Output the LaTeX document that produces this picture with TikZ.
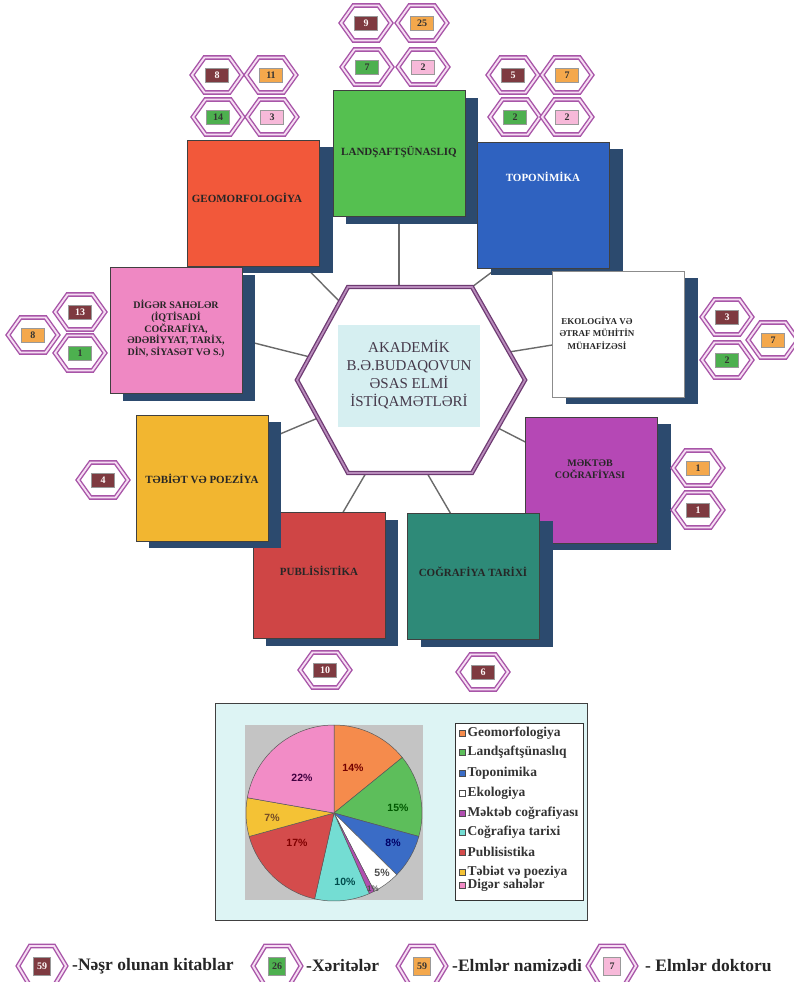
\documentclass[tikz,border=0pt]{standalone}
\usepackage{fontspec}
\setmainfont{Liberation Serif}
\setsansfont{Liberation Sans}
\usetikzlibrary{shadows}
\pgfdeclarelayer{back}
\pgfdeclarelayer{bg}
\pgfsetlayers{back,bg,main}

\definecolor{shadowblue}{HTML}{2C4A6E}
\definecolor{geoC}{HTML}{F2583A}
\definecolor{landC}{HTML}{55C050}
\definecolor{topoC}{HTML}{2F62C0}
\definecolor{mektC}{HTML}{B548B5}
\definecolor{cogC}{HTML}{2E8A78}
\definecolor{publC}{HTML}{CF4545}
\definecolor{tebC}{HTML}{F2B630}
\definecolor{digC}{HTML}{EF88C3}
\definecolor{hexPurple}{HTML}{A855A8}
\definecolor{hexLight}{HTML}{F6DDF3}
\definecolor{bBrown}{HTML}{7E3A40}
\definecolor{bOrange}{HTML}{F4A84C}
\definecolor{bGreen}{HTML}{4DB04F}
\definecolor{bPink}{HTML}{F7B9D9}
\definecolor{connC}{HTML}{6A6A6A}
\definecolor{centerPurple}{HTML}{6E3A72}
\definecolor{centerLight}{HTML}{B88BBB}
\definecolor{centerFill}{HTML}{D6EFF1}
\definecolor{centerText}{HTML}{45394A}
\definecolor{panelC}{HTML}{DDF4F4}
\definecolor{plotC}{HTML}{C4C4C4}
\definecolor{pGeo}{HTML}{F58B4C}
\definecolor{pLand}{HTML}{5DBE5B}
\definecolor{pTopo}{HTML}{3A6CC6}
\definecolor{pEko}{HTML}{FFFFFF}
\definecolor{pMekt}{HTML}{B04EB0}
\definecolor{pCog}{HTML}{74DDD3}
\definecolor{pPubl}{HTML}{D44C4C}
\definecolor{pTeb}{HTML}{F4C235}
\definecolor{pDig}{HTML}{F28CC6}

\tikzset{
  conn/.style={draw=connC, line width=1.4pt},
  areabox/.style={draw=black!75, line width=0.4pt, minimum width=132pt, minimum height=126pt, inner sep=0pt,
    general shadow={fill=shadowblue, shadow xshift=13pt, shadow yshift=-7pt}},
  arealabel/.style={font=\fontsize{11}{13}\selectfont\bfseries, align=center, inner sep=0pt, text=black!85},
  badgehex/.style={draw=hexPurple, double=hexLight, line width=1.4pt, double distance=1.9pt, fill=white, line join=miter},
  numbox/.style={minimum width=23pt, minimum height=14pt, inner sep=0pt, font=\fontsize{10}{10}\selectfont\bfseries, draw=black!40, line width=0.3pt},
  keybox/.style={minimum width=17pt, minimum height=18pt},
  nbrown/.style={fill=bBrown, text=white!90!pink},
  norange/.style={fill=bOrange, text=black!80},
  ngreen/.style={fill=bGreen, text=black!80},
  npink/.style={fill=bPink, text=black!80},
  centerhex/.style={fill=white, draw=centerPurple, double=centerLight, line width=1.3pt, double distance=1.8pt, line join=miter},
  pctlabel/.style={font=\sffamily\bfseries\fontsize{10.5}{11}\selectfont, inner sep=0pt},
  legsq/.style={draw=black!70, line width=0.4pt, minimum size=6.5pt, inner sep=0pt},
  legtxt/.style={font=\fontsize{13.5}{13.5}\selectfont\bfseries, text=black!80, inner sep=0pt, anchor=west},
  keytxt/.style={font=\fontsize{17.5}{17.5}\selectfont\bfseries, text=black!85, inner sep=0pt, anchor=west}
}

\newcommand{\mybadge}[5]{%
  \draw[badgehex, shift={(#2,#3)}] (-25,0) -- (-12.5,-17.5) -- (12.5,-17.5) -- (25,0) -- (12.5,17.5) -- (-12.5,17.5) -- cycle;
  \node[numbox, #4] (#1) at (#2,#3) {#5};}
\newcommand{\mykeybadge}[5]{%
  \draw[badgehex, shift={(#2,#3)}] (-24,0) -- (-12,-20) -- (12,-20) -- (24,0) -- (12,20) -- (-12,20) -- cycle;
  \node[numbox, keybox, #4] (#1) at (#2,#3) {#5};}

\begin{document}
\begin{tikzpicture}[x=1pt,y=-1pt]
\useasboundingbox (0,0) rectangle (793,982);
\begin{pgfonlayer}{back}
  \fill[white] (0,0) rectangle (793,982);
\end{pgfonlayer}

% ---------- area boxes ----------
\node[areabox, fill=geoC]  (geo)  at (253.5,203) {};
\node[areabox, fill=landC] (land) at (399,153.5) {};
\node[areabox, fill=topoC] (topo) at (543.5,205) {};
\node[areabox, fill=white, draw=black!45] (eko) at (618.5,334) {};
\node[areabox, fill=mektC] (mekt) at (591.5,480) {};
\node[areabox, fill=cogC]  (cog)  at (473.5,576.5) {};
\node[areabox, fill=publC] (publ) at (319,575.5) {};
\node[areabox, fill=tebC]  (teb)  at (202,478) {};
\node[areabox, fill=digC]  (dig)  at (176,330.5) {};

\node[arealabel] (geoT)  at (247,198) {GEOMORFOLOGİYA};
\node[arealabel] (landT) at (399,152) {LANDŞAFTŞÜNASLIQ};
\node[arealabel, text=white] (topoT) at (543,177) {TOPONİMİKA};
\node[arealabel, font=\fontsize{9}{12.5}\selectfont\bfseries] (ekoT) at (597,333) {EKOLOGİYA VƏ\\ƏTRAF MÜHİTİN\\MÜHAFİZƏSİ};
\node[arealabel, font=\fontsize{10}{12}\selectfont\bfseries] (mektT) at (590,469) {MƏKTƏB\\COĞRAFİYASI};
\node[arealabel] (cogT)  at (473,572) {COĞRAFİYA TARİXİ};
\node[arealabel] (publT) at (319,571) {PUBLİSİSTİKA};
\node[arealabel] (tebT)  at (202,479) {TƏBİƏT VƏ POEZİYA};
\node[arealabel, font=\fontsize{10}{11.7}\selectfont\bfseries] (digT) at (176,329) {DİGƏR SAHƏLƏR\\(İQTİSADİ\\COĞRAFİYA,\\ƏDƏBİYYAT, TARİX,\\DİN, SİYASƏT VƏ S.)};

% ---------- central hexagon ----------
\coordinate (hx1) at (348,287);
\coordinate (hx2) at (472,287);
\coordinate (hx3) at (525,380);
\coordinate (hx4) at (472,473);
\coordinate (hx5) at (348,473);
\coordinate (hx6) at (297,380);
\coordinate (hGeo)  at (340,302);
\coordinate (hLand) at (399,287);
\coordinate (hTopo) at (472,287);
\coordinate (hEko)  at (509,352);
\coordinate (hMekt) at (498,428);
\coordinate (hCog)  at (427,473);
\coordinate (hPubl) at (366,473);
\coordinate (hTeb)  at (318,418);
\coordinate (hDig)  at (310,357);

\begin{pgfonlayer}{bg}
  \draw[conn] (hGeo)  -- ([xshift=-15pt]geo.south east);
  \draw[conn] (hLand) -- (land.south);
  \draw[conn] (hTopo) -- ([xshift=-46.5pt]topo.south);
  \draw[conn] (hEko)  -- ([yshift=-11pt]eko.west);
  \draw[conn] (hMekt) -- ([yshift=38pt]mekt.west);
  \draw[conn] (hCog)  -- ([xshift=-23pt]cog.north);
  \draw[conn] (hPubl) -- ([xshift=24pt]publ.north);
  \draw[conn] (hTeb)  -- ([yshift=39pt]teb.east);
  \draw[conn] (hDig)  -- ([yshift=-9.5pt]dig.east);
\end{pgfonlayer}

\draw[centerhex] (hx1) -- (hx2) -- (hx3) -- (hx4) -- (hx5) -- (hx6) -- cycle;
\node[fill=centerFill, minimum width=142pt, minimum height=102pt, inner sep=0pt] (cbg) at (409,376) {};
\node[font=\fontsize{15}{18.3}\selectfont, text=centerText, align=center, inner sep=0pt] (centerT) at (409,374.5)
  {AKADEMİK\\B.Ə.BUDAQOVUN\\ƏSAS ELMİ\\İSTİQAMƏTLƏRİ};

% ---------- badges ----------
\mybadge{b01}{366}{23}{nbrown}{9}
\mybadge{b02}{422}{23}{norange}{25}
\mybadge{b03}{367}{67}{ngreen}{7}
\mybadge{b04}{423}{67}{npink}{2}
\mybadge{b05}{217}{75}{nbrown}{8}
\mybadge{b06}{271}{75}{norange}{11}
\mybadge{b07}{218}{117}{ngreen}{14}
\mybadge{b08}{272}{117}{npink}{3}
\mybadge{b09}{513}{75}{nbrown}{5}
\mybadge{b10}{567}{75}{norange}{7}
\mybadge{b11}{515}{117}{ngreen}{2}
\mybadge{b12}{567}{117}{npink}{2}
\mybadge{b13}{80}{312}{nbrown}{13}
\mybadge{b14}{33}{335}{norange}{8}
\mybadge{b15}{80}{353}{ngreen}{1}
\mybadge{b16}{727}{317}{nbrown}{3}
\mybadge{b17}{773}{340}{norange}{7}
\mybadge{b18}{727}{360}{ngreen}{2}
\mybadge{b19}{103}{480}{nbrown}{4}
\mybadge{b20}{698}{468}{norange}{1}
\mybadge{b21}{698}{510}{nbrown}{1}
\mybadge{b22}{325}{670}{nbrown}{10}
\mybadge{b23}{483}{672}{nbrown}{6}

% ---------- pie chart panel ----------
\node[draw=black!75, fill=panelC, line width=0.8pt, minimum width=372pt, minimum height=217pt, inner sep=0pt] (panel) at (401,811.5) {};
\node[fill=plotC, minimum width=178pt, minimum height=175pt, inner sep=0pt] (plot) at (334,812.5) {};
\begin{scope}[shift={(334,813)}, y=1pt]
  \foreach \a/\b/\c in {90/39.09/pGeo, 39.09/-15.45/pLand, -15.45/-44.55/pTopo, -44.55/-62.73/pEko,
      -62.73/-66.36/pMekt, -66.36/-102.73/pCog, -102.73/-164.55/pPubl, -164.55/-190/pTeb, -190/-270/pDig}
    \filldraw[fill=\c, draw=black!65, line width=0.5pt] (0,0) -- (\a:88) arc[start angle=\a, end angle=\b, radius=88] -- cycle;
\end{scope}
\node[pctlabel, text=red!45!black]   (pl1) at (353,768) {14\%};
\node[pctlabel, text=green!35!black] (pl2) at (398,808) {15\%};
\node[pctlabel, text=blue!40!black]  (pl3) at (393,843) {8\%};
\node[pctlabel, text=black!70]       (pl4) at (382,873) {5\%};
\node[pctlabel, text=teal!60!black]  (pl5) at (345,882) {10\%};
\node[pctlabel, text=black!70, font=\sffamily\bfseries\fontsize{8}{8}\selectfont] (pl6) at (373,889) {1\%};
\node[pctlabel, text=red!50!black]   (pl7) at (297,843) {17\%};
\node[pctlabel, text=brown!60!black] (pl8) at (272,818) {7\%};
\node[pctlabel, text=violet!50!black](pl9) at (302,778) {22\%};

\node[draw=black!80, fill=white, line width=0.6pt, minimum width=128pt, minimum height=177pt, inner sep=0pt] (legbox) at (519,811.5) {};
\foreach \lab/\col/\yy [count=\i] in {Geomorfologiya/pGeo/733, Landşaftşünaslıq/pLand/752, Toponimika/pTopo/773,
    Ekologiya/pEko/793, Məktəb coğrafiyası/pMekt/813, Coğrafiya tarixi/pCog/832, Publisistika/pPubl/852,
    Təbiət və poeziya/pTeb/872, Digər sahələr/pDig/885}{
  \node[legsq, fill=\col] (lsq\i) at (462,\yy) {};
  \node[legtxt] (ltx\i) at (467.5,\yy) {\lab};
}

% ---------- key ----------
\mykeybadge{k1}{42}{966}{nbrown}{59}
\node[keytxt] (k1T) at (72,966) {-Nəşr olunan kitablar};
\mykeybadge{k2}{277}{966}{ngreen}{26}
\node[keytxt] (k2T) at (306,966) {-Xəritələr};
\mykeybadge{k3}{422}{966}{norange}{59}
\node[keytxt] (k3T) at (452,966) {-Elmlər namizədi};
\mykeybadge{k4}{612}{966}{npink}{7}
\node[keytxt] (k4T) at (645,966) {- Elmlər doktoru};
\end{tikzpicture}
\end{document}
